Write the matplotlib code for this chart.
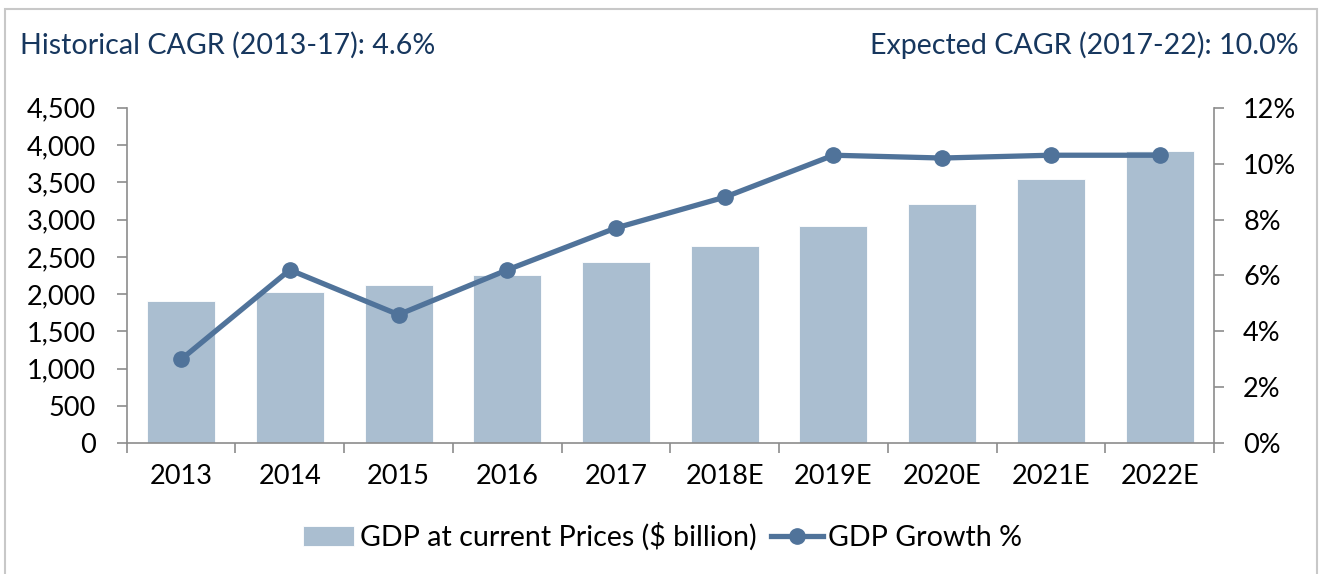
import matplotlib.pyplot as plt
from matplotlib.patches import Rectangle
from matplotlib.ticker import FuncFormatter, MultipleLocator
import numpy as np

# data
years = ["2013", "2014", "2015", "2016", "2017", "2018E", "2019E", "2020E", "2021E", "2022E"]
gdp = [1910, 2030, 2125, 2260, 2430, 2645, 2920, 3215, 3550, 3915]
growth = [3.0, 6.2, 4.6, 6.2, 7.7, 8.8, 10.3, 10.2, 10.3, 10.3]

bar_color = "#AABED0"
line_color = "#50739A"
axis_color = "#8C8C8C"
title_color = "#17375E"

plt.rcParams['font.family'] = ['Lato', 'DejaVu Sans']
FS = 20.6
TFS = 19.5

fig = plt.figure(figsize=(13.2, 5.74), dpi=100)
ax = fig.add_axes([0.096, 0.2277, 0.8237, 0.5847])
ax2 = ax.twinx()

x = np.arange(len(years))
bars = ax.bar(x, gdp, width=0.625, color=bar_color, edgecolor="white", linewidth=0.6,
              label="GDP at current Prices ($ billion)", zorder=2)
line, = ax2.plot(x, growth, color=line_color, linewidth=3.8, marker="o", markersize=11,
                 label="GDP Growth %", zorder=3)

ax.set_xlim(-0.5, len(years) - 0.5)
ax.set_ylim(0, 4500)
ax2.set_ylim(0, 12)
ax.yaxis.set_major_locator(MultipleLocator(500))
ax2.yaxis.set_major_locator(MultipleLocator(2))
ax.yaxis.set_major_formatter(FuncFormatter(lambda v, p: f"{int(v):,}"))
ax2.yaxis.set_major_formatter(FuncFormatter(lambda v, p: f"{int(v)}%"))

# x ticks at category boundaries, labels centred
ax.set_xticks(np.arange(-0.5, len(years), 1.0))
ax.set_xticklabels([])
ax.set_xticks(x, minor=True)
ax.set_xticklabels(years, minor=True)
ax.tick_params(axis="x", which="major", length=7, width=1.2, color=axis_color, direction="out")
ax.tick_params(axis="x", which="minor", length=0, pad=15, labelsize=TFS)
ax.tick_params(axis="y", length=7, width=1.2, color=axis_color, pad=15, labelsize=TFS)
ax2.tick_params(axis="y", length=7, width=1.2, color=axis_color, pad=14, labelsize=TFS)

for a in (ax, ax2):
    a.spines["top"].set_visible(False)
    for s in ("left", "right", "bottom"):
        a.spines[s].set_color(axis_color)
        a.spines[s].set_linewidth(1.2)
ax.spines["right"].set_visible(False)
ax2.spines["left"].set_visible(False)
ax2.spines["bottom"].set_visible(False)

fig.text(0.015, 0.921, "Historical CAGR (2013-17): 4.6%", color=title_color,
         fontsize=FS, ha="left", va="center")
fig.text(0.984, 0.921, "Expected CAGR (2017-22): 10.0%", color=title_color,
         fontsize=FS, ha="right", va="center")

fig.legend([bars, line], ["GDP at current Prices ($ billion)", "GDP Growth %"],
           loc="center", bbox_to_anchor=(0.502, 0.0645), ncol=2, frameon=False,
           fontsize=FS, handlelength=1.8, handletextpad=0.2, columnspacing=0.5)

# outer frame
fig.patches.append(Rectangle((5 / 1320, -0.05), 1312 / 1320, 1 - 9 / 574 + 0.05,
                             transform=fig.transFigure, fill=False,
                             edgecolor="#C8C8C8", linewidth=1.5))

fig.savefig("out.png", dpi=100)
